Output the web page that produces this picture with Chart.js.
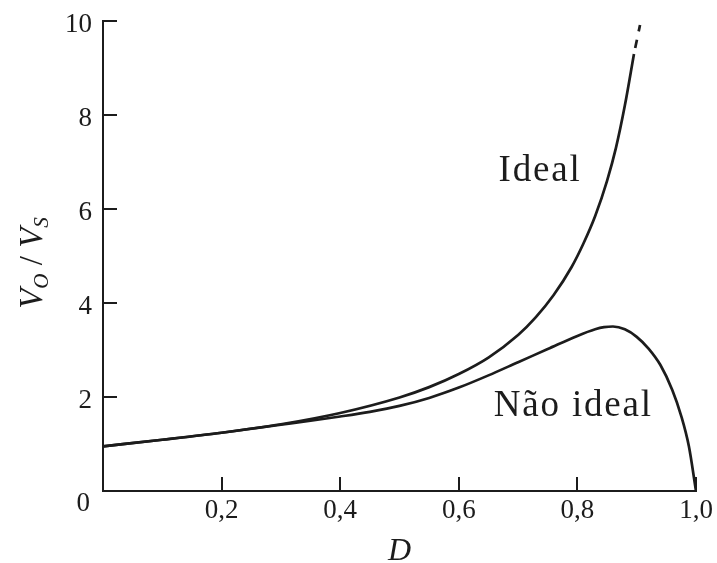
<!DOCTYPE html>
<html>
<head>
<meta charset="utf-8">
<title>Boost: V_O/V_S versus D</title>
<script src="https://cdn.jsdelivr.net/npm/chart.js@4/dist/chart.umd.min.js"></script>
<style>
  html, body { margin: 0; padding: 0; background: #ffffff; }
  #wrap { width: 717px; height: 563px; }
</style>
</head>
<body>
<div id="wrap"><canvas id="c" width="717" height="563"></canvas></div>
<script>
// Duty cycle D and the voltage gain V_O/V_S of the boost converter.
const idealD = [0, 0.1, 0.2, 0.3, 0.4, 0.5, 0.55, 0.6, 0.65, 0.7, 0.73, 0.76, 0.79, 0.81, 0.83, 0.85, 0.865, 0.88, 0.8954];
const idealV = [0.95, 1.09, 1.24, 1.42, 1.66, 1.99, 2.21, 2.49, 2.84, 3.32, 3.7, 4.17, 4.76, 5.26, 5.85, 6.6, 7.3, 8.2, 9.3];

// Dashed continuation of the ideal gain towards D = 1.
const idealTailD = [0.8954, 0.9056];
const idealTailV = [9.3, 9.915];

// Non-ideal gain (with losses): peaks near D = 0.86 and collapses at D = 1.
const realD = [0, 0.1, 0.2, 0.3, 0.35, 0.4, 0.45, 0.5, 0.55, 0.6, 0.65, 0.7, 0.75, 0.8, 0.83, 0.845, 0.86, 0.88, 0.9, 0.92, 0.94, 0.96, 0.975, 0.988, 1.0];
const realV = [0.95, 1.09, 1.24, 1.41, 1.495, 1.585, 1.685, 1.81, 1.98, 2.2, 2.46, 2.74, 3.02, 3.3, 3.44, 3.485, 3.5, 3.44, 3.28, 3.03, 2.68, 2.15, 1.6, 0.95, 0];

// Curve captions, placed in data coordinates (left edge, baseline).
const captions = [
  { text: 'Ideal', d: 0.667, v: 6.6 },
  { text: 'Não ideal', d: 0.659, v: 1.6 }
];

const INK = '#1c1c1c';
const SERIF = '"Liberation Serif", "Times New Roman", serif';

const toPoints = (xs, ys) => xs.map((d, i) => ({ x: d, y: ys[i] }));
const commaDecimal = v => v.toFixed(1).replace('.', ',');

// Inward tick marks, the "0" at the origin, the y-axis title with subscripts and the captions.
const decor = {
  id: 'decor',
  afterDraw(chart) {
    const { ctx, chartArea: a, scales: { x, y } } = chart;
    ctx.save();
    ctx.strokeStyle = INK;
    ctx.lineWidth = 2;
    const L = 14;
    x.ticks.forEach(t => {
      if (t.value === 0) return;
      const px = Math.round(x.getPixelForValue(t.value));
      ctx.beginPath(); ctx.moveTo(px, a.bottom); ctx.lineTo(px, a.bottom - L); ctx.stroke();
    });
    y.ticks.forEach(t => {
      if (t.value === 0) return;
      const py = Math.round(y.getPixelForValue(t.value));
      ctx.beginPath(); ctx.moveTo(a.left, py); ctx.lineTo(a.left + L, py); ctx.stroke();
    });

    // Origin label
    ctx.fillStyle = INK;
    ctx.font = '27px ' + SERIF;
    ctx.textAlign = 'right';
    ctx.textBaseline = 'middle';
    ctx.fillText('0', a.left - 13, y.getPixelForValue(0) + 13);

    // y-axis title: V_O / V_S, rotated
    const parts = [
      { t: 'V', f: 'italic 33px ' + SERIF, dy: 0 },
      { t: 'O', f: 'italic 21px ' + SERIF, dy: 6 },
      { t: ' / ', f: '33px ' + SERIF, dy: 0 },
      { t: 'V', f: 'italic 33px ' + SERIF, dy: 0 },
      { t: 'S', f: 'italic 21px ' + SERIF, dy: 6 }
    ];
    let total = 0;
    parts.forEach(p => { ctx.font = p.f; p.w = ctx.measureText(p.t).width; total += p.w; });
    ctx.save();
    ctx.translate(42, 263);
    ctx.rotate(-Math.PI / 2);
    ctx.textAlign = 'left';
    ctx.textBaseline = 'alphabetic';
    let cx = -total / 2;
    parts.forEach(p => { ctx.font = p.f; ctx.fillText(p.t, cx, p.dy); cx += p.w; });
    ctx.restore();

    // Curve captions
    ctx.font = '37px ' + SERIF;
    ctx.textAlign = 'left';
    ctx.textBaseline = 'alphabetic';
    if ('letterSpacing' in ctx) ctx.letterSpacing = '1.8px';
    captions.forEach(c => ctx.fillText(c.text, x.getPixelForValue(c.d), y.getPixelForValue(c.v)));
    ctx.restore();
  }
};

const lineStyle = {
  borderColor: INK,
  borderWidth: 2.7,
  pointRadius: 0,
  fill: false,
  cubicInterpolationMode: 'monotone'
};

new Chart(document.getElementById('c'), {
  type: 'line',
  data: {
    datasets: [
      Object.assign({ label: 'Ideal', data: toPoints(idealD, idealV) }, lineStyle),
      Object.assign({ label: 'Ideal (continuação)', data: toPoints(idealTailD, idealTailV),
        borderDash: [8.5, 8.5], borderDashOffset: 11 }, lineStyle),
      Object.assign({ label: 'Não ideal', data: toPoints(realD, realV) }, lineStyle)
    ]
  },
  options: {
    responsive: false,
    devicePixelRatio: 1,
    animation: false,
    layout: { padding: { top: 21, right: 21, left: 0, bottom: 0 } },
    plugins: { legend: { display: false }, tooltip: { enabled: false } },
    scales: {
      x: {
        type: 'linear',
        min: 0, max: 1,
        grid: { display: false, drawTicks: false, tickLength: 0 },
        border: { display: true, color: INK, width: 2 },
        ticks: {
          stepSize: 0.2,
          autoSkip: false,
          maxRotation: 0,
          padding: 4,
          color: INK,
          font: { family: SERIF, size: 27 },
          callback: v => (v === 0 ? '' : commaDecimal(v))
        },
        title: {
          display: true,
          text: 'D',
          color: INK,
          font: { family: SERIF, size: 32, style: 'italic', lineHeight: 1 },
          padding: { top: 0, bottom: -5 }
        },
        afterFit: s => { s.height = 72; s.paddingLeft = 0; s.paddingRight = 0; }
      },
      y: {
        min: 0, max: 10,
        grid: { display: false, drawTicks: false, tickLength: 0 },
        border: { display: true, color: INK, width: 2 },
        ticks: {
          stepSize: 2,
          padding: 11,
          labelOffset: 4,
          color: INK,
          font: { family: SERIF, size: 27 },
          callback: v => (v === 0 ? '' : String(v))
        },
        afterFit: s => { s.width = 103; s.paddingTop = 0; s.paddingBottom = 0; }
      }
    }
  },
  plugins: [decor]
});
</script>
</body>
</html>
